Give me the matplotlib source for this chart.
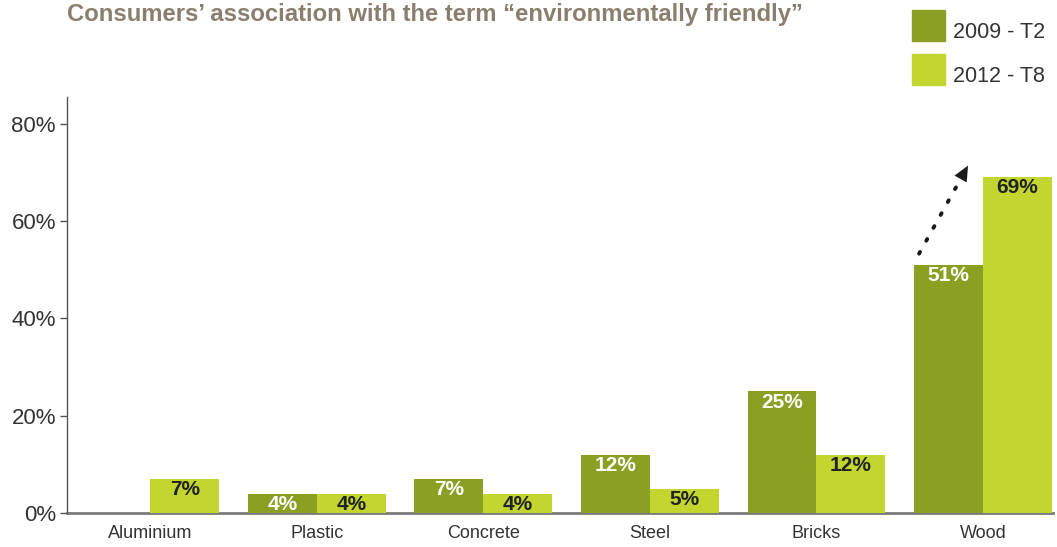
import numpy as np
import matplotlib as mpl
mpl.use('Agg')
import matplotlib.pyplot as plt
from matplotlib.patches import Rectangle

plt.rcParams['font.family'] = ['Liberation Sans', 'DejaVu Sans']

materials = ['Aluminium', 'Plastic', 'Concrete', 'Steel', 'Bricks', 'Wood']
share_2009 = [None, 4, 7, 12, 25, 51]
share_2012 = [7, 4, 4, 5, 12, 69]
series_names = ['2009 - T2', '2012 - T8']
y_ticks = [0, 20, 40, 60, 80]

dark_green = '#8ba023'
lime = '#c2d62f'
title_color = '#8a7f6c'
text_color = '#333333'

fig = plt.figure(figsize=(10.57, 5.47), dpi=100)
ax = fig.add_axes([67 / 1057, 34 / 547, 986 / 1057, 416 / 547])

x = np.arange(len(materials))
w = 0.414
label_drop = 2.2

for i, (a, b) in enumerate(zip(share_2009, share_2012)):
    if a is not None:
        ax.bar(x[i] - w / 2, a, w, color=dark_green, zorder=3)
        ax.text(x[i] - w / 2, a - label_drop, f'{a}%', ha='center', va='center',
                color='white', fontsize=15, fontweight='bold', zorder=4)
    ax.bar(x[i] + w / 2, b, w, color=lime, zorder=3)
    ax.text(x[i] + w / 2, b - label_drop, f'{b}%', ha='center', va='center',
            color='#222222', fontsize=15, fontweight='bold', zorder=4)

# dotted arrow from the 2009 wood bar towards the 2012 value
wood = len(materials) - 1
start = np.array([wood - 0.384, share_2009[wood] + 2.3])
tip = np.array([wood - 0.09, share_2012[wood] + 2.4])
ax.annotate('', xy=tip, xytext=start,
            arrowprops=dict(arrowstyle='-', linestyle=(0, (0.5, 3.3)), lw=2.8,
                            color='#1a1a1a', capstyle='round',
                            shrinkA=0, shrinkB=12),
            zorder=5)
head_base = tip - 0.12 * (tip - start)
ax.annotate('', xy=tip, xytext=head_base,
            arrowprops=dict(arrowstyle='-|>,head_length=1.1,head_width=0.5',
                            lw=0.01, color='#1a1a1a', shrinkA=0, shrinkB=0),
            zorder=5)

ax.set_xlim(-0.5, 5.42)
ax.set_ylim(0, 85.5)
ax.set_xticks(x)
ax.set_xticklabels(materials, fontsize=13, color=text_color)
ax.set_yticks(y_ticks)
ax.set_yticklabels([f'{t}%' for t in y_ticks], fontsize=16, color=text_color)
ax.tick_params(axis='x', length=0, pad=9)
ax.tick_params(axis='y', length=5, width=1, color='#555555', pad=3)

for side in ['top', 'right']:
    ax.spines[side].set_visible(False)
ax.spines['left'].set_color('#555555')
ax.spines['left'].set_linewidth(1)
ax.spines['bottom'].set_color('#7a7a7a')
ax.spines['bottom'].set_linewidth(2)
ax.spines['bottom'].set_zorder(2)

fig.text(67 / 1057, 1 - 14 / 547,
         'Consumers\u2019 association with the term \u201cenvironmentally friendly\u201d',
         fontsize=17.2, fontweight='bold', color=title_color, ha='left', va='center')

# legend swatches in the top-right corner
for k, (name, col) in enumerate(zip(series_names, [dark_green, lime])):
    top = 10 + 44 * k
    fig.patches.append(Rectangle((912 / 1057, 1 - (top + 31) / 547), 33 / 1057, 31 / 547,
                                 transform=fig.transFigure, color=col))
    fig.text(953 / 1057, 1 - (top + 23) / 547, name, fontsize=15.5,
             color=text_color, ha='left', va='center')

fig.savefig('out.png', dpi=100)
